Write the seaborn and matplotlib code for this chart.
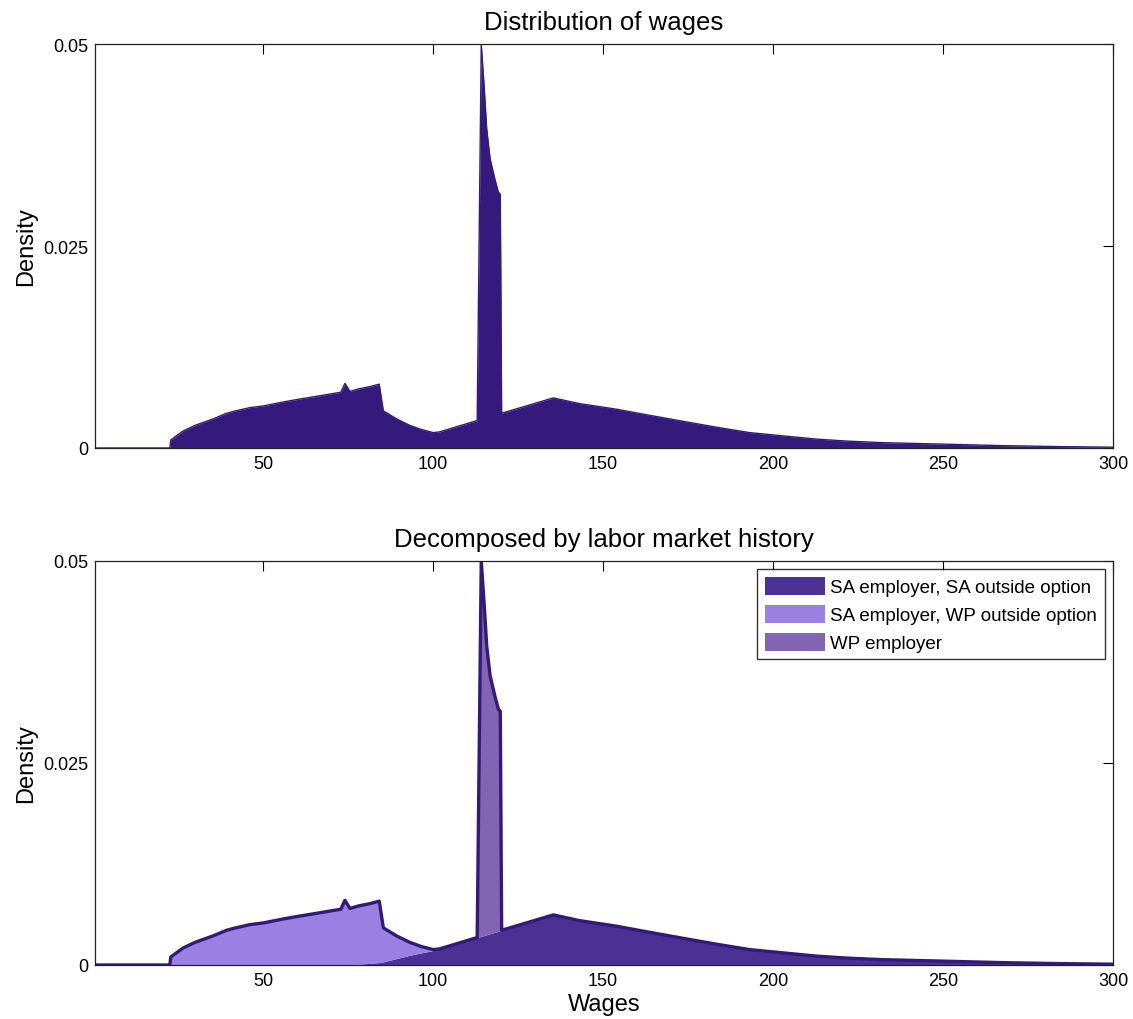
import numpy as np
import pandas as pd
import matplotlib
matplotlib.use("Agg")
import matplotlib.pyplot as plt
from matplotlib.patches import Patch
import seaborn as sns

# ---- data ----
wages = [1, 22.6, 22.9, 26.5, 30.0, 35.3, 39.3, 42.0, 46.2, 50.0, 56.0, 60.0, 65.8,
         70.0, 72.9, 74.1, 75.6, 78.0, 81.5, 84.2, 85.4, 89.3, 93.2, 96.5, 100.1,
         102.0, 113.0, 114.2, 115.1, 115.8, 116.8, 118.2, 119.2, 119.8, 120.2,
         135.4, 143.0, 154.0, 163.0, 173.6, 183.0, 193.2, 203.0, 212.8, 222.0,
         232.4, 250.0, 266.8, 283.0, 300.0]

sa_sa = [0, 0, 0, 0, 0, 0, 0, 0, 0, 0, 0, 0, 0,
         0, 0.00002, 0.00003, 0.00005, 0.0001, 0.0002, 0.0003, 0.0004, 0.0008, 0.0012, 0.0015, 0.0018,
         0.0020, 0.0034, 0.00355, 0.00366, 0.00375, 0.00387, 0.00405, 0.00418, 0.00425, 0.0043,
         0.0062, 0.0055, 0.0048, 0.0041, 0.0033, 0.0026, 0.0019, 0.0015, 0.0011, 0.00085,
         0.00066, 0.00048, 0.00030, 0.00018, 0.00010]

sa_wp = [0, 0, 0.0010, 0.0021, 0.0028, 0.0036, 0.0043, 0.0046, 0.0050, 0.0052, 0.0057, 0.0060, 0.0064,
         0.0067, 0.00688, 0.00797, 0.00695, 0.0072, 0.0074, 0.0076, 0.0042, 0.0028, 0.0016, 0.0008, 0.0001,
         0, 0, 0, 0, 0, 0, 0, 0, 0, 0,
         0, 0, 0, 0, 0, 0, 0, 0, 0, 0,
         0, 0, 0, 0, 0]

wp = [0, 0, 0, 0, 0, 0, 0, 0, 0, 0, 0, 0, 0,
      0, 0, 0, 0, 0, 0, 0, 0, 0, 0, 0, 0,
      0, 0, 0.04645, 0.04074, 0.03575, 0.03193, 0.02925, 0.02752, 0.02715, 0,
      0, 0, 0, 0, 0, 0, 0, 0, 0, 0,
      0, 0, 0, 0, 0]

series_labels = ["SA employer, SA outside option", "SA employer, WP outside option", "WP employer"]
x_ticks = [50, 100, 150, 200, 250, 300]
y_ticks = [0, 0.025, 0.05]
y_tick_labels = ["0", "0.025", "0.05"]

df = pd.DataFrame({"wage": wages, "sa_sa": sa_sa, "sa_wp": sa_wp, "wp": wp})
df["total"] = df["sa_sa"] + df["sa_wp"] + df["wp"]

# ---- style ----
sns.set_style("white")
plt.rcParams["font.family"] = ["Liberation Sans", "DejaVu Sans"]
plt.rcParams["text.color"] = "black"
plt.rcParams["axes.labelcolor"] = "black"

c_top = "#351a7e"
c_line = "#33197b"
c_dark = "#4b3193"
c_light = "#9b80e3"
c_mid = "#8165b1"

fig = plt.figure(figsize=(11.33, 10.2), dpi=100)
ax1 = fig.add_axes([95/1133, 1-449/1020, 1018/1133, 404/1020])
ax2 = fig.add_axes([95/1133, 1-966/1020, 1018/1133, 404/1020])

# top panel
ax1.fill_between(df["wage"], 0, df["total"], color=c_top, lw=0)
sns.lineplot(data=df, x="wage", y="total", ax=ax1, color=c_top, lw=1,
             estimator=None, sort=False)
ax1.set_title("Distribution of wages", fontsize=18.5, pad=11, color="black")
ax1.set_xlabel("")

# bottom panel (stacked)
base1 = df["sa_sa"]
base2 = df["sa_sa"] + df["sa_wp"]
ax2.fill_between(df["wage"], 0, base1, color=c_dark, lw=0)
ax2.fill_between(df["wage"], base1, base2, color=c_light, lw=0)
ax2.fill_between(df["wage"], base2, df["total"], color=c_mid, lw=0)
sns.lineplot(data=df, x="wage", y="total", ax=ax2, color=c_line, lw=2.4,
             estimator=None, sort=False)
ax2.set_title("Decomposed by labor market history", fontsize=18.5, pad=11, color="black")
ax2.set_xlabel("Wages", fontsize=17, labelpad=3)

handles = [Patch(facecolor=c, edgecolor="none") for c in (c_dark, c_light, c_mid)]
leg = ax2.legend(handles, series_labels, loc="upper right", fontsize=13.5,
                 frameon=True, fancybox=False, edgecolor="black",
                 handlelength=3.2, handleheight=1.1, handletextpad=0.3,
                 borderpad=0.4, labelspacing=0.45, borderaxespad=0.45)
leg.get_frame().set_linewidth(1.0)

for ax in (ax1, ax2):
    ax.set_xlim(0.6, 300)
    ax.set_ylim(0, 0.05)
    ax.set_xticks(x_ticks)
    ax.set_xticklabels([str(t) for t in x_ticks])
    ax.set_yticks(y_ticks)
    ax.set_yticklabels(y_tick_labels)
    ax.set_ylabel("Density", fontsize=17, labelpad=4)
    ax.tick_params(direction="in", length=7, width=0.8, top=True, right=True,
                   labelsize=13, pad=5, colors="black")
    for s in ax.spines.values():
        s.set_visible(True)
        s.set_color("#222222")
        s.set_linewidth(0.9)

fig.savefig("out.png", dpi=100, facecolor="white")
